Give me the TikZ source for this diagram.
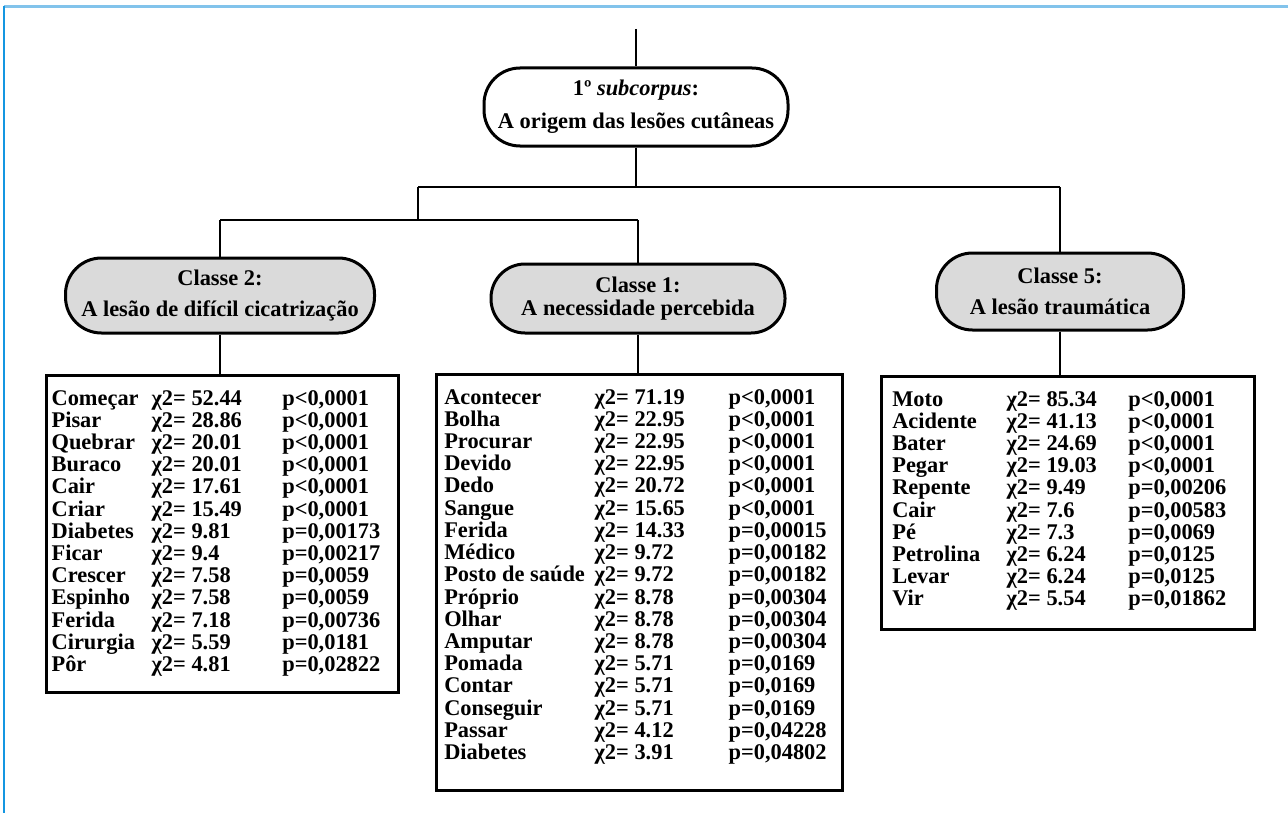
\documentclass[tikz,border=0pt]{standalone}
\usepackage{fontspec}
\setmainfont{Liberation Serif}
\usepackage{array}

\definecolor{cinza}{RGB}{218,218,218}
\definecolor{azul}{RGB}{20,150,225}
\definecolor{azulclaro}{RGB}{130,195,235}

\begin{document}
\begin{tikzpicture}[x=0.5pt,y=-0.5pt,
  ramo/.style={line width=1pt},
  raiz/.style={draw,line width=1.5pt,rounded corners=18pt,align=center,inner sep=0pt,fill=white,font=\bfseries\fontsize{11.2}{16.5}\selectfont},
  classe/.style={raiz,fill=cinza},
  tabela/.style={draw,line width=1.6pt,anchor=north west,inner ysep=7pt,font=\bfseries\fontsize{11.2}{11.1}\selectfont}]

\useasboundingbox (0,0) rectangle (1288,813);
% moldura
\draw[azulclaro,line width=1.2pt] (4,6.5) -- (1288,6.5);
\draw[azul,line width=1.2pt] (4,6.5) -- (4,813);

% arvore
\coordinate (topo) at (636,29);
\node[raiz,minimum width=152pt,minimum height=39pt] (raiz) at (636,107) {1º \textit{subcorpus}:\\A origem das lesões cutâneas};

\coordinate (j1) at (636,187);
\coordinate (j1a) at (418,187);
\coordinate (j1b) at (1060,187);
\coordinate (j2) at (418,220);
\coordinate (j2a) at (220,220);
\coordinate (j2b) at (638,220);

\node[classe,minimum width=154.5pt,minimum height=37.5pt,font=\bfseries\fontsize{11.2}{15.5}\selectfont] (c2) at (220,295.5) {Classe 2:\\A lesão de difícil cicatrização};
\node[classe,rounded corners=17pt,minimum width=147pt,minimum height=34.5pt,font=\bfseries\fontsize{11.2}{11.5}\selectfont] (c1) at (638,298.5) {Classe 1:\\A necessidade percebida};
\node[classe,minimum width=123.5pt,minimum height=38.5pt,font=\bfseries\fontsize{11.2}{15.8}\selectfont] (c5) at (1060,291.5) {Classe 5:\\A lesão traumática};

% tabelas
\node[tabela,inner xsep=2.5pt] (t2) at (45,374) {\begin{tabular}{@{}p{50pt}@{}p{65.35pt}@{}p{55.65pt}@{}}
Começar & χ2= 52.44 & p<0,0001\\
Pisar & χ2= 28.86 & p<0,0001\\
Quebrar & χ2= 20.01 & p<0,0001\\
Buraco & χ2= 20.01 & p<0,0001\\
Cair & χ2= 17.61 & p<0,0001\\
Criar & χ2= 15.49 & p<0,0001\\
Diabetes & χ2= 9.81 & p=0,00173\\
Ficar & χ2= 9.4 & p=0,00217\\
Crescer & χ2= 7.58 & p=0,0059\\
Espinho & χ2= 7.58 & p=0,0059\\
Ferida & χ2= 7.18 & p=0,00736\\
Cirurgia & χ2= 5.59 & p=0,0181\\
Pôr & χ2= 4.81 & p=0,02822
\end{tabular}};

\node[tabela,inner xsep=3.85pt] (t1) at (435,373) {\begin{tabular}{@{}p{75.15pt}@{}p{67pt}@{}p{53.15pt}@{}}
Acontecer & χ2= 71.19 & p<0,0001\\
Bolha & χ2= 22.95 & p<0,0001\\
Procurar & χ2= 22.95 & p<0,0001\\
Devido & χ2= 22.95 & p<0,0001\\
Dedo & χ2= 20.72 & p<0,0001\\
Sangue & χ2= 15.65 & p<0,0001\\
Ferida & χ2= 14.33 & p=0,00015\\
Médico & χ2= 9.72 & p=0,00182\\
Posto de saúde & χ2= 9.72 & p=0,00182\\
Próprio & χ2= 8.78 & p=0,00304\\
Olhar & χ2= 8.78 & p=0,00304\\
Amputar & χ2= 8.78 & p=0,00304\\
Pomada & χ2= 5.71 & p=0,0169\\
Contar & χ2= 5.71 & p=0,0169\\
Conseguir & χ2= 5.71 & p=0,0169\\
Passar & χ2= 4.12 & p=0,04228\\
Diabetes & χ2= 3.91 & p=0,04802\\[5pt]
\end{tabular}};

\node[tabela,inner xsep=5.35pt] (t5) at (880,375) {\begin{tabular}{@{}p{57.15pt}@{}p{60.85pt}@{}p{57.65pt}@{}}
Moto & χ2= 85.34 & p<0,0001\\
Acidente & χ2= 41.13 & p<0,0001\\
Bater & χ2= 24.69 & p<0,0001\\
Pegar & χ2= 19.03 & p<0,0001\\
Repente & χ2= 9.49 & p=0,00206\\
Cair & χ2= 7.6 & p=0,00583\\
Pé & χ2= 7.3 & p=0,0069\\
Petrolina & χ2= 6.24 & p=0,0125\\
Levar & χ2= 6.24 & p=0,0125\\
Vir & χ2= 5.54 & p=0,01862\\[1.5pt]
\end{tabular}};

% ligacoes
\draw[ramo] (topo) -- (raiz);
\draw[ramo] (raiz) -- (j1);
\draw[ramo] (j1a) -- (j1b);
\draw[ramo] (j1a) -- (j2);
\draw[ramo] (j2a) -- (j2b);
\draw[ramo] (j2a) -- (c2);
\draw[ramo] (j2b) -- (c1);
\draw[ramo] (j1b) -- (c5);
\draw[ramo] (c2) -- (c2 |- t2.north);
\draw[ramo] (c1) -- (c1 |- t1.north);
\draw[ramo] (c5) -- (c5 |- t5.north);
\end{tikzpicture}
\end{document}
